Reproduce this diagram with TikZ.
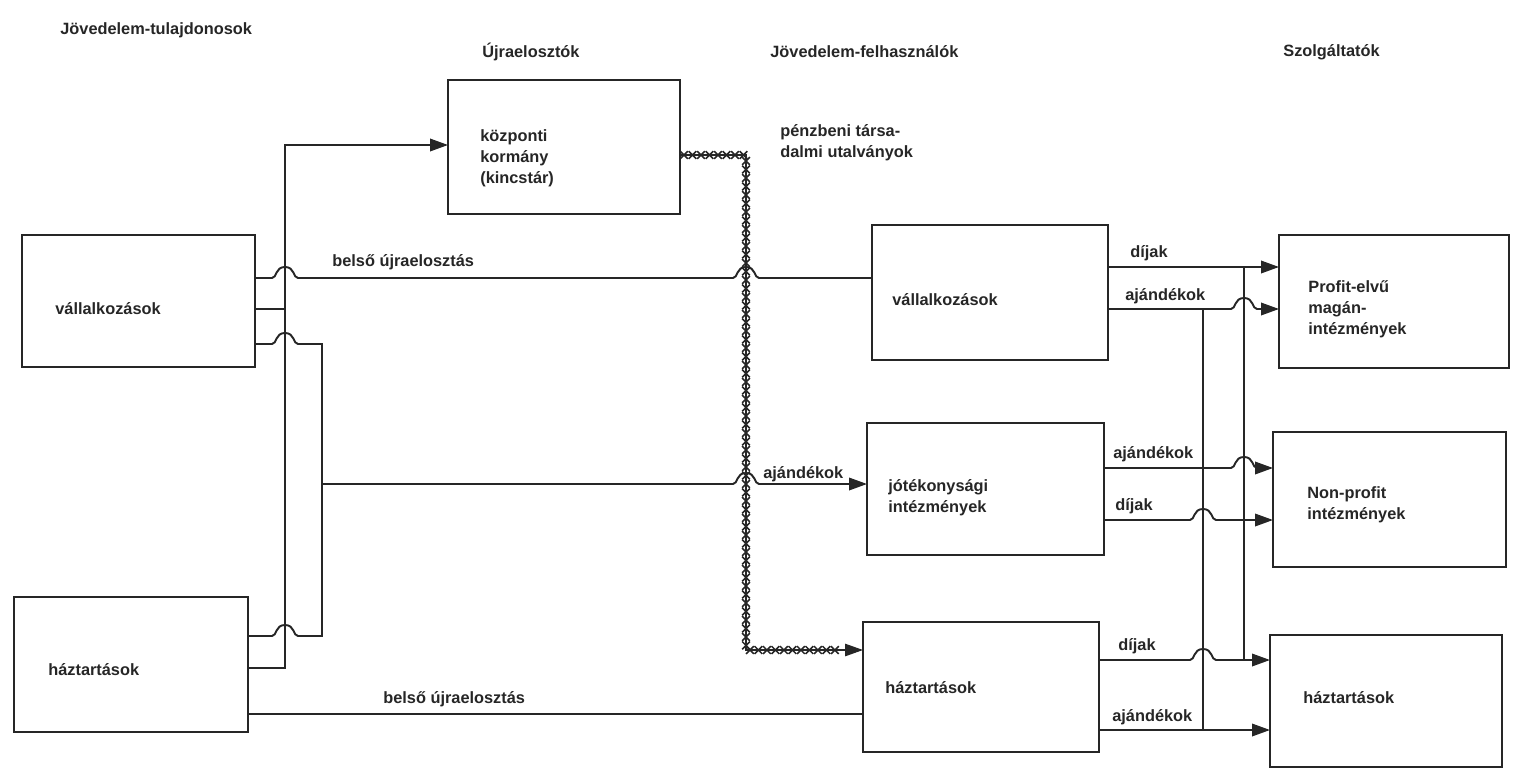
\documentclass[tikz,border=0pt]{standalone}
\usepackage{fontspec}
\setmainfont{Liberation Sans}
\usetikzlibrary{arrows.meta,fit,decorations.markings}
\definecolor{ink}{HTML}{262626}
\begin{document}
\begin{tikzpicture}[x=0.02cm,y=-0.02cm,
  box/.style={draw=ink, line width=1.5pt, inner sep=0pt, outer sep=0pt},
  lbl/.style={anchor=west, inner sep=0pt, font=\fontsize{9.3}{12}\selectfont\bfseries, text=ink},
  conn/.style={draw=ink, line width=1.1pt, line join=miter},
  arr/.style={-{Triangle[length=0.36cm,width=0.25cm]}},
  xline/.style={draw=ink, line width=0.6pt},
  hopover/.style args={#1/#2}{insert path={ -- (#1-13,#2) .. controls (#1-8,#2) and (#1-10,#2-11) .. (#1,#2-11) .. controls (#1+10,#2-11) and (#1+8,#2) .. (#1+13,#2)}},
  hopoverl/.style args={#1/#2}{insert path={ -- (#1+13,#2) .. controls (#1+8,#2) and (#1+10,#2-11) .. (#1,#2-11) .. controls (#1-10,#2-11) and (#1-8,#2) .. (#1-13,#2)}},
  xmarks/.style={decoration={markings, mark=between positions 0.08cm and 1 step 0.17cm with {\draw[ink, line width=0.9pt] (-2.2pt,-2.2pt)--(2.2pt,2.2pt) (-2.2pt,2.2pt)--(2.2pt,-2.2pt);}}, decorate}
]
\useasboundingbox[fill=white] (0,0) rectangle (1517,774);

% headers
\node[lbl] (h1) at (60,30) {Jövedelem-tulajdonosok};
\node[lbl] (h2) at (482,52) {Újraelosztók};
\node[lbl] (h3) at (770,52) {Jövedelem-felhasználók};
\node[lbl] (h4) at (1283,52) {Szolgáltatók};

% boxes
\node[box, fit={(22,235) (255,367)}] (lv) {};
\node[box, fit={(14,597) (248,732)}] (lh) {};
\node[box, fit={(448,80) (680,214)}] (kk) {};
\node[box, fit={(872,225) (1108,360)}] (mv) {};
\node[box, fit={(867,423) (1104,555)}] (mj) {};
\node[box, fit={(863,622) (1099,752)}] (mh) {};
\node[box, fit={(1279,235) (1509,368)}] (rp) {};
\node[box, fit={(1273,432) (1506,567)}] (rn) {};
\node[box, fit={(1270,635) (1502,767)}] (rh) {};

% box texts
\node[lbl] (lvt) at (55,309) {vállalkozások};
\node[lbl] (lht) at (48,670) {háztartások};
\node[lbl, align=left] (kkt) at (480,158) {központi\\kormány\\(kincstár)};
\node[lbl] (mvt) at (892,300) {vállalkozások};
\node[lbl, align=left] (mjt) at (888,498) {jótékonysági\\intézmények};
\node[lbl] (mht) at (885,688) {háztartások};
\node[lbl, align=left] (rpt) at (1308,309) {Profit-elvű\\magán-\\intézmények};
\node[lbl, align=left] (rnt) at (1307,505) {Non-profit\\intézmények};
\node[lbl] (rht) at (1303,698) {háztartások};

% left side connectors
\coordinate (A1) at (285,145);
\coordinate (A2) at (285,668);
\coordinate (A3) at (285,309);
\draw[conn,arr] (lh.east |- A2) -- (A2) -- (A1) -- (kk.west |- A1);
\draw[conn] (lv.east |- A3) -- (A3);

\coordinate (B1) at (322,344);
\coordinate (B2) at (322,636);
\coordinate (Bj) at (322,484);
\draw[conn] (lv.east |- B1) [hopover={285/344}] -- (B1) -- (B2) [hopoverl={285/636}] -- (lh.east |- B2);
\draw[conn,arr] (Bj) [hopover={746/484}] -- (mj.west |- Bj);
\node[lbl] (lajan) at (763,474) {ajándékok};

\coordinate (T1) at (0,278);
\draw[conn] (lv.east |- T1) [hopover={285/278}] [hopover={746/278}] -- (mv.west |- T1);
\node[lbl] (tbelso) at (332,262) {belső újraelosztás};

\coordinate (D1) at (0,714);
\draw[conn] (lh.east |- D1) -- (mh.west |- D1);
\node[lbl] (dbelso) at (383,699) {belső újraelosztás};

% social transfers (x-marked line)
\coordinate (X1) at (746,155);
\coordinate (X2) at (746,650);
\coordinate (X3) at (838,650);
\draw[xline,arr] (kk.east |- X1) -- (X1) -- (X2) -- (mh.west |- X2);
\path[xmarks] (kk.east |- X1) -- (X1) -- (X2) -- (X3);
\node[lbl, align=left] (penz) at (780,143) {pénzbeni társa-\\dalmi utalványok};

% right side connectors
\coordinate (V1t) at (1244,267);
\coordinate (V1b) at (1244,660);
\coordinate (V2t) at (1203,309);
\coordinate (V2b) at (1203,730);
\coordinate (R3) at (0,468);
\coordinate (R4) at (0,520);

\draw[conn,arr] (mv.east |- V1t) -- (rp.west |- V1t);
\draw[conn] (V1t) -- (V1b);
\draw[conn,arr] (mv.east |- V2t) [hopover={1244/309}] -- (rp.west |- V2t);
\draw[conn] (V2t) -- (V2b);
\draw[conn,arr] (mj.east |- R3) [hopover={1244/468}] -- (rn.west |- R3);
\draw[conn,arr] (mj.east |- R4) [hopover={1203/520}] -- (rn.west |- R4);
\draw[conn,arr] (mh.east |- V1b) [hopover={1203/660}] -- (rh.west |- V1b);
\draw[conn,arr] (mh.east |- V2b) -- (rh.west |- V2b);

\node[lbl] (l1) at (1130,253) {díjak};
\node[lbl] (l2) at (1125,296) {ajándékok};
\node[lbl] (l3) at (1113,454) {ajándékok};
\node[lbl] (l4) at (1115,506) {díjak};
\node[lbl] (l5) at (1118,646) {díjak};
\node[lbl] (l6) at (1112,717) {ajándékok};
\end{tikzpicture}
\end{document}
